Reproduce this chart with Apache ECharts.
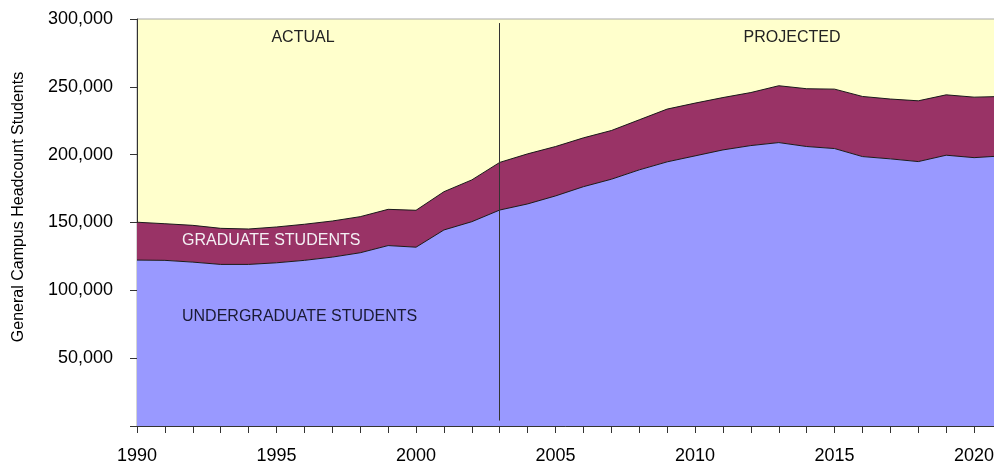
<!DOCTYPE html>
<html>
<head>
<meta charset="utf-8">
<script src="https://cdn.jsdelivr.net/npm/echarts@6/dist/echarts.min.js"></script>
<style>
  html, body { margin: 0; padding: 0; background: #fff; }
  #main { width: 994px; height: 464px; }
</style>
</head>
<body>
<div id="main"></div>
<script>
// years 1990 .. 2021
let years = [];
for (let y = 1990; y <= 2021; y++) years.push(String(y));

let undergrad = [122300, 122100, 120800, 119100, 119100, 120300, 122100, 124500, 127700, 133000,
                 131800, 144500, 150600, 159200, 163700, 169600, 176400, 181900, 188800, 194700,
                 199100, 203500, 206700, 208900, 206000, 204500, 198600, 196900, 194900, 199600,
                 197800, 199100];
let graduate = [27900, 27000, 27100, 26600, 26100, 26400, 26600, 26600, 26600, 26700,
                27200, 28200, 30800, 35100, 36900, 36400, 36000, 35900, 36900, 38900,
                38900, 38600, 39100, 41900, 42600, 43800, 44300, 44100, 44800, 44500,
                44600, 43800];
let splitYear = '2003';

let font = 'Liberation Sans, Arial, sans-serif';
let chart = echarts.init(document.getElementById('main'));

let option = {
    animation: false,
    grid: {
        left: 137, top: 19, right: -8, bottom: 38,
        containLabel: false,
        outerBoundsMode: 'none',
        show: true,
        backgroundColor: '#FFFFCC',
        borderColor: '#a8a8a8',
        borderWidth: 1
    },
    xAxis: {
        type: 'category',
        data: years,
        boundaryGap: false,
        axisLine: { lineStyle: { color: '#333', width: 1 } },
        axisTick: { interval: 0, length: 7, lineStyle: { color: '#333' } },
        splitLine: { show: false },
        axisLabel: {
            interval: 0,
            margin: 21,
            color: '#000',
            fontFamily: font,
            fontSize: 18,
            formatter: function (v) { return Number(v) % 5 === 0 ? v : ''; }
        }
    },
    yAxis: {
        type: 'value',
        min: 0,
        max: 300000,
        interval: 50000,
        axisLine: { show: true, lineStyle: { color: '#333', width: 1 } },
        axisTick: { show: true, length: 7, lineStyle: { color: '#333' } },
        splitLine: { show: false },
        axisLabel: {
            margin: 24,
            color: '#000',
            fontFamily: font,
            fontSize: 18,
            formatter: function (v) { return v === 0 ? '' : v.toLocaleString('en-US'); }
        }
    },
    series: [
        {
            name: 'Undergraduate',
            type: 'line',
            stack: 'students',
            symbol: 'none',
            lineStyle: { color: '#1a1a1a', width: 1 },
            areaStyle: { color: '#9999FF', opacity: 1 },
            data: undergrad,
            markLine: {
                silent: true,
                symbol: 'none',
                label: { show: false },
                lineStyle: { color: '#333', width: 1, type: 'solid' },
                data: [[{ coord: [splitYear, 297000] }, { coord: [splitYear, 4000] }]]
            }
        },
        {
            name: 'Graduate',
            type: 'line',
            stack: 'students',
            symbol: 'none',
            lineStyle: { color: '#1a1a1a', width: 1 },
            areaStyle: { color: '#993366', opacity: 1 },
            data: graduate
        }
    ],
    graphic: [
        {
            type: 'text', x: 19, y: 207, rotation: Math.PI / 2, z: 100,
            style: { text: 'General Campus Headcount Students', font: '16px ' + font, fill: '#000',
                     align: 'center', verticalAlign: 'middle' }
        },
        {
            type: 'text', x: 303, y: 38, z: 100,
            style: { text: 'ACTUAL', font: '16px ' + font, fill: '#222', align: 'center', verticalAlign: 'middle' }
        },
        {
            type: 'text', x: 792, y: 38, z: 100,
            style: { text: 'PROJECTED', font: '16px ' + font, fill: '#222', align: 'center', verticalAlign: 'middle' }
        },
        {
            type: 'text', x: 182, y: 241, z: 100,
            style: { text: 'GRADUATE STUDENTS', font: '16px ' + font, fill: '#f4f0f4', align: 'left', verticalAlign: 'middle' }
        },
        {
            type: 'text', x: 182, y: 317, z: 100,
            style: { text: 'UNDERGRADUATE STUDENTS', font: '16px ' + font, fill: '#1a1a33', align: 'left', verticalAlign: 'middle' }
        }
    ]
};
chart.setOption(option);
</script>
</body>
</html>
